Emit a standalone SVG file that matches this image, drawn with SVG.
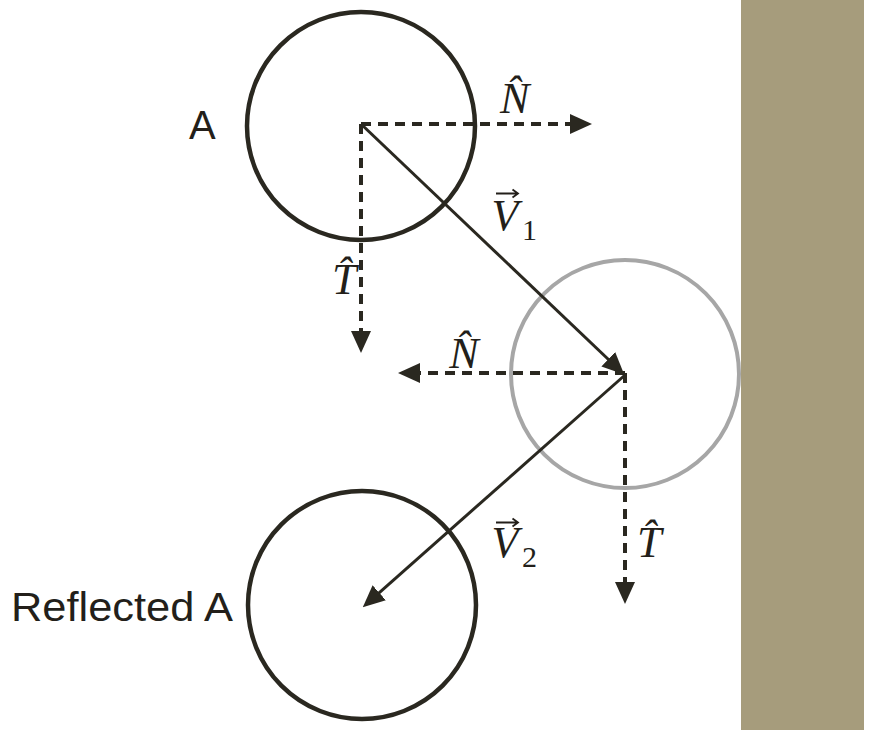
<svg xmlns="http://www.w3.org/2000/svg" width="885" height="730" viewBox="0 0 885 730">
  <style>
    .ball { fill: none; stroke: #2a2820; stroke-width: 4.5; }
    .ghost { fill: none; stroke: #a6a6a6; stroke-width: 4; }
    .dash { fill: none; stroke: #2a2820; stroke-width: 4; stroke-dasharray: 10 7; }
    .vel { fill: none; stroke: #2a2820; stroke-width: 3; }
    .lbl { font-family: "Liberation Sans", Arial, sans-serif; font-size: 40px; fill: #231f1a; }
    .math { font-family: "Liberation Serif", "DejaVu Serif", serif; font-style: italic; font-size: 44px; fill: #231f1a; }
    .sub { font-family: "Liberation Serif", "DejaVu Serif", serif; font-size: 30px; fill: #231f1a; }
    .accent { fill: none; stroke: #231f1a; stroke-width: 1.8; stroke-linejoin: miter; }
  </style>
  <defs>
    <marker id="ah" markerUnits="userSpaceOnUse" viewBox="0 0 22 20" markerWidth="22" markerHeight="20" refX="1" refY="10" orient="auto">
      <path d="M0,0 L22,10 L0,20 Z" fill="#2a2820"/>
    </marker>
  </defs>
  <rect id="wall" x="741" y="0" width="123" height="730" fill="#a69c7c"/>
  <g id="ballA">
    <circle class="ball" cx="361" cy="126" r="114"/>
    <text class="lbl" x="189" y="139">A</text>
  </g>
  <g id="ballHit">
    <circle class="ghost" cx="625" cy="374" r="114"/>
  </g>
  <g id="ballReflected">
    <circle class="ball" cx="362" cy="605" r="114"/>
    <text class="lbl" x="11" y="621" textLength="222" lengthAdjust="spacingAndGlyphs">Reflected A</text>
  </g>
  <g id="connectors">
    <line class="dash" x1="361" y1="124" x2="571" y2="124" marker-end="url(#ah)"/>
    <line class="dash" x1="361" y1="124" x2="361" y2="332" marker-end="url(#ah)"/>
    <line class="vel" x1="361" y1="124" x2="609" y2="360" marker-end="url(#ah)"/>
    <line class="dash" x1="625" y1="373" x2="419" y2="373" marker-end="url(#ah)"/>
    <line class="dash" x1="625" y1="373" x2="625" y2="583" marker-end="url(#ah)"/>
    <line class="vel" x1="625" y1="375" x2="378.5" y2="593.4" marker-end="url(#ah)"/>
  </g>
  <g id="labels">
    <text id="N1" class="math" x="500" y="113">N&#x302;</text>
    <g id="V1">
      <text class="math" x="491.5" y="230">V</text>
      <path class="accent" d="M496,193.5 H518 M512.5,189.5 L518,193.5 L512.5,197.5"/>
      <text class="sub" x="522" y="240">1</text>
    </g>
    <text id="T1" class="math" x="332" y="294">T&#x302;</text>
    <text id="N2" class="math" x="449.3" y="368">N&#x302;</text>
    <g id="V2">
      <text class="math" x="491.5" y="557">V</text>
      <path class="accent" d="M496,522.5 H518 M512.5,518.5 L518,522.5 L512.5,526.5"/>
      <text class="sub" x="522" y="567">2</text>
    </g>
    <text id="T2" class="math" x="637" y="557">T&#x302;</text>
  </g>
</svg>
